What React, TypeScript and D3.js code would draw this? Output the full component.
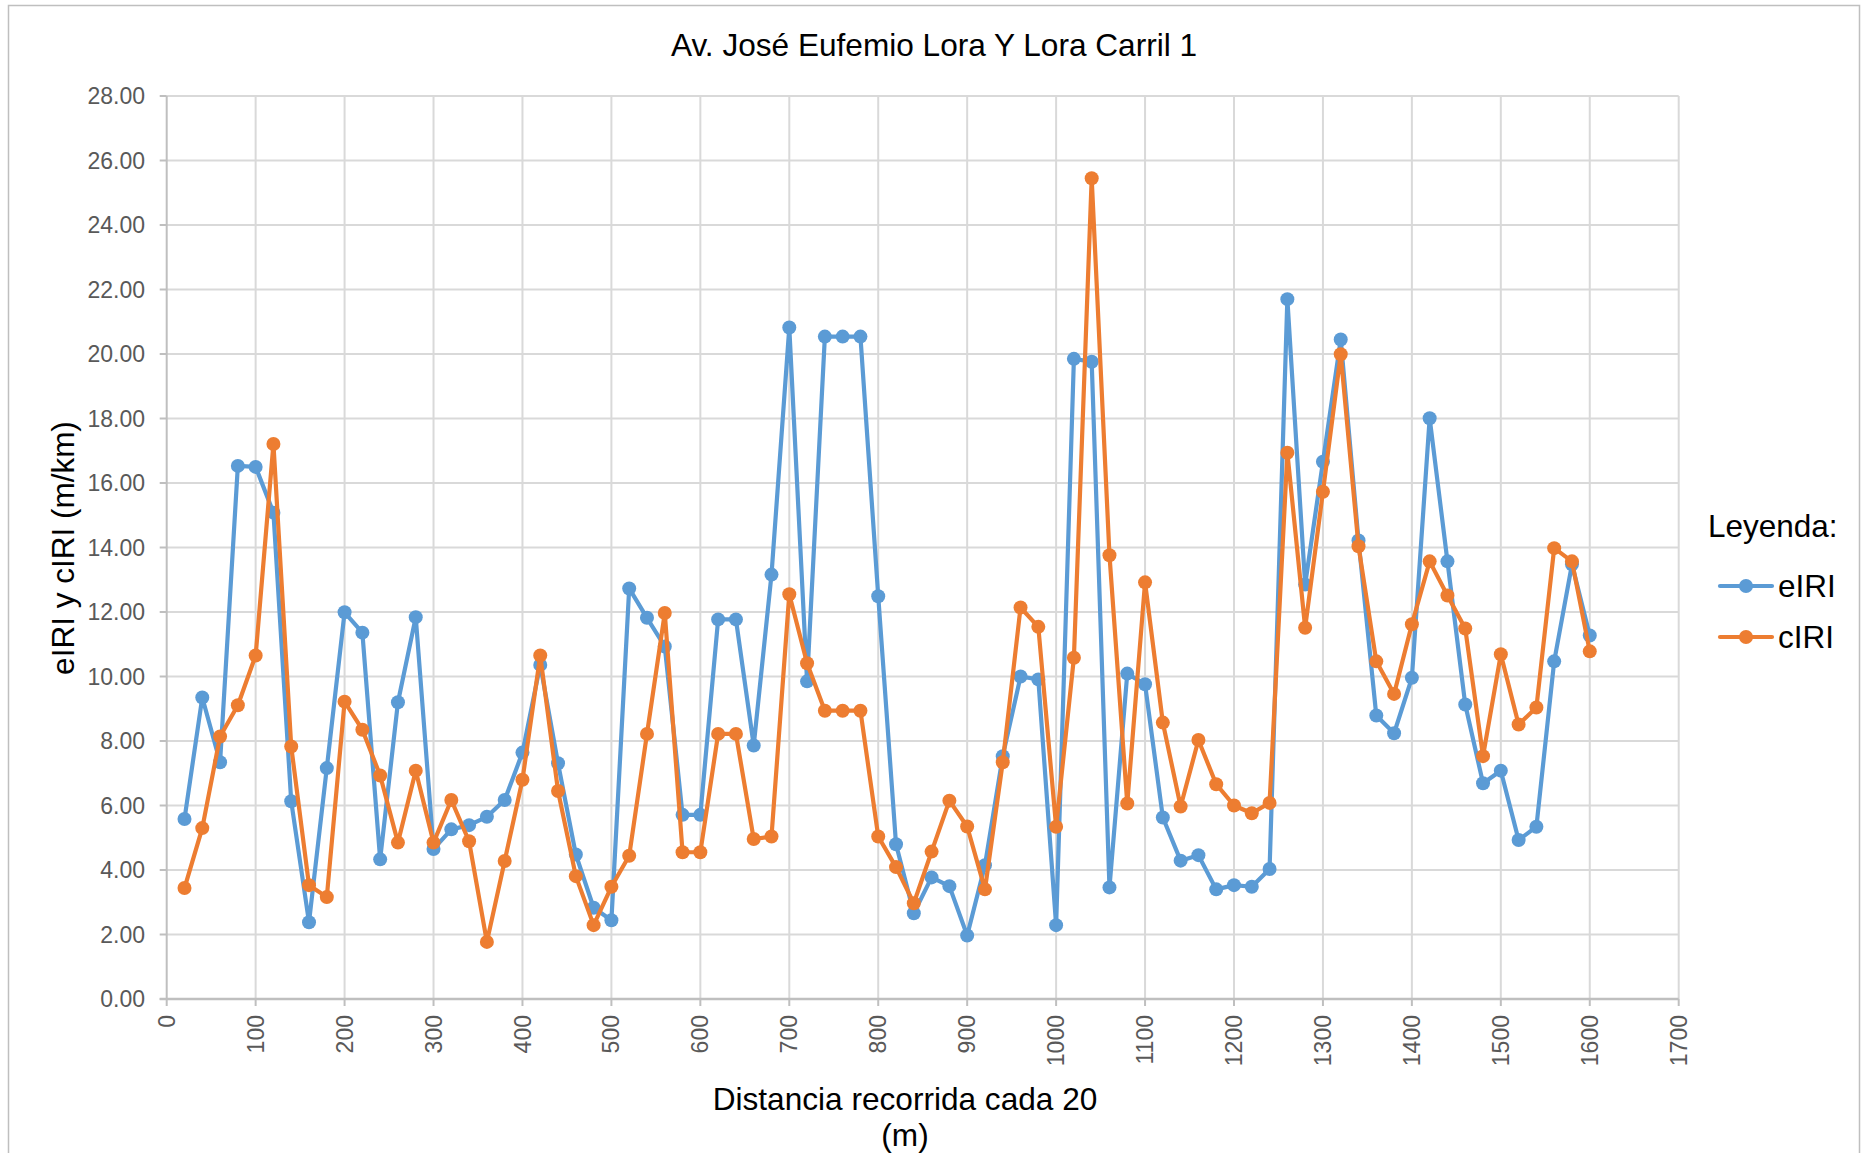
import { useEffect, useRef } from 'react';
import * as d3 from 'd3';

// distance every 20 m
const distances = d3.range(20, 1601, 20);

const eIRI = [
  5.58, 9.35, 7.34, 16.53, 16.5, 15.08, 6.13, 2.38, 7.16, 11.99,
  11.36, 4.33, 9.2, 11.84, 4.65, 5.26, 5.39, 5.65, 6.17, 7.64,
  10.36, 7.31, 4.48, 2.83, 2.44, 12.73, 11.82, 10.93, 5.71, 5.71,
  11.77, 11.77, 7.86, 13.16, 20.82, 9.85, 20.54, 20.54, 20.54, 12.49,
  4.8, 2.66, 3.77, 3.5, 1.97, 4.15, 7.53, 10.0, 9.91, 2.29,
  19.85, 19.76, 3.46, 10.09, 9.76, 5.63, 4.29, 4.46, 3.4, 3.53,
  3.48, 4.03, 21.7, 12.85, 16.66, 20.45, 14.22, 8.79, 8.24, 9.96,
  18.01, 13.57, 9.13, 6.69, 7.08, 4.93, 5.34, 10.47, 13.48, 11.27,
];

const cIRI = [
  3.44, 5.3, 8.14, 9.11, 10.65, 17.21, 7.83, 3.53, 3.16, 9.22,
  8.35, 6.93, 4.85, 7.08, 4.85, 6.17, 4.89, 1.77, 4.28, 6.8,
  10.65, 6.45, 3.81, 2.29, 3.48, 4.44, 8.22, 11.97, 4.55, 4.55,
  8.22, 8.22, 4.96, 5.04, 12.55, 10.41, 8.94, 8.94, 8.94, 5.04,
  4.09, 2.97, 4.57, 6.15, 5.35, 3.4, 7.34, 12.14, 11.54, 5.34,
  10.58, 25.45, 13.76, 6.06, 12.92, 8.57, 5.97, 8.03, 6.66, 6.0,
  5.76, 6.08, 16.94, 11.51, 15.73, 19.99, 14.04, 10.47, 9.46, 11.62,
  13.57, 12.51, 11.49, 7.53, 10.69, 8.51, 9.04, 13.98, 13.57, 10.78,
];

const xTicks = [0, 100, 200, 300, 400, 500, 600, 700, 800, 900, 1000, 1100, 1200, 1300, 1400, 1500, 1600, 1700];
const yTicks = [0, 2, 4, 6, 8, 10, 12, 14, 16, 18, 20, 22, 24, 26, 28];

const seriesNames = ['eIRI', 'cIRI'];
const seriesColors = ['#5b9bd5', '#ed7d31'];

const W = 1863;
const H = 1153;
const FONT = "'Liberation Sans', Arial, sans-serif";

const App = () => {
  const svgRef = useRef<SVGSVGElement>(null);

  useEffect(() => {
    if (!svgRef.current) return;
    const svg = d3.select(svgRef.current);
    svg.selectAll('*').remove();

    const plot = { left: 166.7, right: 1678.7, top: 96, bottom: 999 };

    const x = d3.scaleLinear().domain([0, 1700]).range([plot.left, plot.right]);
    const y = d3.scaleLinear().domain([0, 28]).range([plot.bottom, plot.top]);

    // background + outer frame
    svg.append('rect').attr('width', W).attr('height', H).attr('fill', '#fff');
    svg.append('rect')
      .attr('x', 8.5).attr('y', 5.5)
      .attr('width', 1851).attr('height', 1170)
      .attr('fill', 'none')
      .attr('stroke', '#bfbfbf')
      .attr('stroke-width', 1.5);

    // gridlines
    const grid = svg.append('g');
    grid.selectAll('line.h')
      .data(yTicks.filter(d => d > 0))
      .enter().append('line')
      .attr('x1', plot.left).attr('x2', plot.right)
      .attr('y1', d => y(d)).attr('y2', d => y(d))
      .attr('stroke', '#d9d9d9').attr('stroke-width', 2);
    grid.selectAll('line.v')
      .data(xTicks.filter(d => d > 0))
      .enter().append('line')
      .attr('x1', d => x(d)).attr('x2', d => x(d))
      .attr('y1', plot.top).attr('y2', plot.bottom)
      .attr('stroke', '#d9d9d9').attr('stroke-width', 2);

    // axes
    const axisColor = '#bfbfbf';
    svg.append('line')
      .attr('x1', plot.left).attr('x2', plot.left)
      .attr('y1', plot.top).attr('y2', plot.bottom)
      .attr('stroke', axisColor).attr('stroke-width', 2);
    svg.append('line')
      .attr('x1', plot.left - 7).attr('x2', plot.right)
      .attr('y1', plot.bottom).attr('y2', plot.bottom)
      .attr('stroke', axisColor).attr('stroke-width', 2.5);

    // y ticks + labels
    const yAxis = svg.append('g');
    yAxis.selectAll('line')
      .data(yTicks)
      .enter().append('line')
      .attr('x1', plot.left - 7).attr('x2', plot.left)
      .attr('y1', d => y(d)).attr('y2', d => y(d))
      .attr('stroke', axisColor).attr('stroke-width', 2);
    yAxis.selectAll('text')
      .data(yTicks)
      .enter().append('text')
      .attr('x', 145)
      .attr('y', d => y(d))
      .attr('dy', '0.35em')
      .attr('text-anchor', 'end')
      .attr('font-family', FONT)
      .attr('font-size', 23)
      .attr('fill', '#595959')
      .text(d => d3.format('.2f')(d));

    // x ticks + labels (rotated)
    const xAxis = svg.append('g');
    xAxis.selectAll('line')
      .data(xTicks)
      .enter().append('line')
      .attr('x1', d => x(d)).attr('x2', d => x(d))
      .attr('y1', plot.bottom).attr('y2', plot.bottom + 7)
      .attr('stroke', axisColor).attr('stroke-width', 2);
    xAxis.selectAll('text')
      .data(xTicks)
      .enter().append('text')
      .attr('transform', d => `translate(${x(d)}, 1015) rotate(-90)`)
      .attr('dy', '0.35em')
      .attr('text-anchor', 'end')
      .attr('font-family', FONT)
      .attr('font-size', 23)
      .attr('fill', '#595959')
      .text(d => String(d));

    // series
    const allSeries = [eIRI, cIRI];
    allSeries.forEach((vals, si) => {
      const pts = distances.map((d, i) => ({ d, v: vals[i] }));
      const line = d3.line<{ d: number; v: number }>()
        .x(p => x(p.d))
        .y(p => y(p.v));
      const g = svg.append('g');
      g.append('path')
        .datum(pts)
        .attr('d', line)
        .attr('fill', 'none')
        .attr('stroke', seriesColors[si])
        .attr('stroke-width', 4.2)
        .attr('stroke-linejoin', 'round')
        .attr('stroke-linecap', 'round');
      g.selectAll('circle')
        .data(pts)
        .enter().append('circle')
        .attr('cx', p => x(p.d))
        .attr('cy', p => y(p.v))
        .attr('r', 7)
        .attr('fill', seriesColors[si]);
    });

    // title
    svg.append('text')
      .attr('x', 934).attr('y', 56)
      .attr('text-anchor', 'middle')
      .attr('font-family', FONT)
      .attr('font-size', 31.6)
      .attr('fill', '#000')
      .text('Av. José Eufemio Lora Y Lora Carril 1');

    // y axis title
    svg.append('text')
      .attr('transform', 'translate(63, 548) rotate(-90)')
      .attr('dy', '0.35em')
      .attr('text-anchor', 'middle')
      .attr('font-family', FONT)
      .attr('font-size', 31.5)
      .attr('fill', '#000')
      .text('eIRI y cIRI (m/km)');

    // x axis title (two lines)
    const xt = svg.append('text')
      .attr('text-anchor', 'middle')
      .attr('font-family', FONT)
      .attr('font-size', 31.6)
      .attr('fill', '#000');
    xt.append('tspan').attr('x', 905).attr('y', 1110).text('Distancia recorrida cada 20');
    xt.append('tspan').attr('x', 905).attr('y', 1146).text('(m)');

    // legend
    const legend = svg.append('g');
    legend.append('text')
      .attr('x', 1708).attr('y', 537)
      .attr('font-family', FONT)
      .attr('font-size', 31.5)
      .attr('fill', '#000')
      .text('Leyenda:');
    seriesNames.forEach((name, i) => {
      const ly = 586 + i * 51;
      legend.append('line')
        .attr('x1', 1720).attr('x2', 1772)
        .attr('y1', ly).attr('y2', ly)
        .attr('stroke', seriesColors[i])
        .attr('stroke-width', 4.2)
        .attr('stroke-linecap', 'round');
      legend.append('circle')
        .attr('cx', 1746).attr('cy', ly).attr('r', 7)
        .attr('fill', seriesColors[i]);
      legend.append('text')
        .attr('x', 1778).attr('y', ly)
        .attr('dy', '0.35em')
        .attr('font-family', FONT)
        .attr('font-size', 31.5)
        .attr('fill', '#000')
        .text(name);
    });
  }, []);

  return (
    <div style={{ position: 'absolute', left: 0, top: 0 }}>
      <svg ref={svgRef} width={W} height={H} style={{ display: 'block' }} />
    </div>
  );
};

export default App;
